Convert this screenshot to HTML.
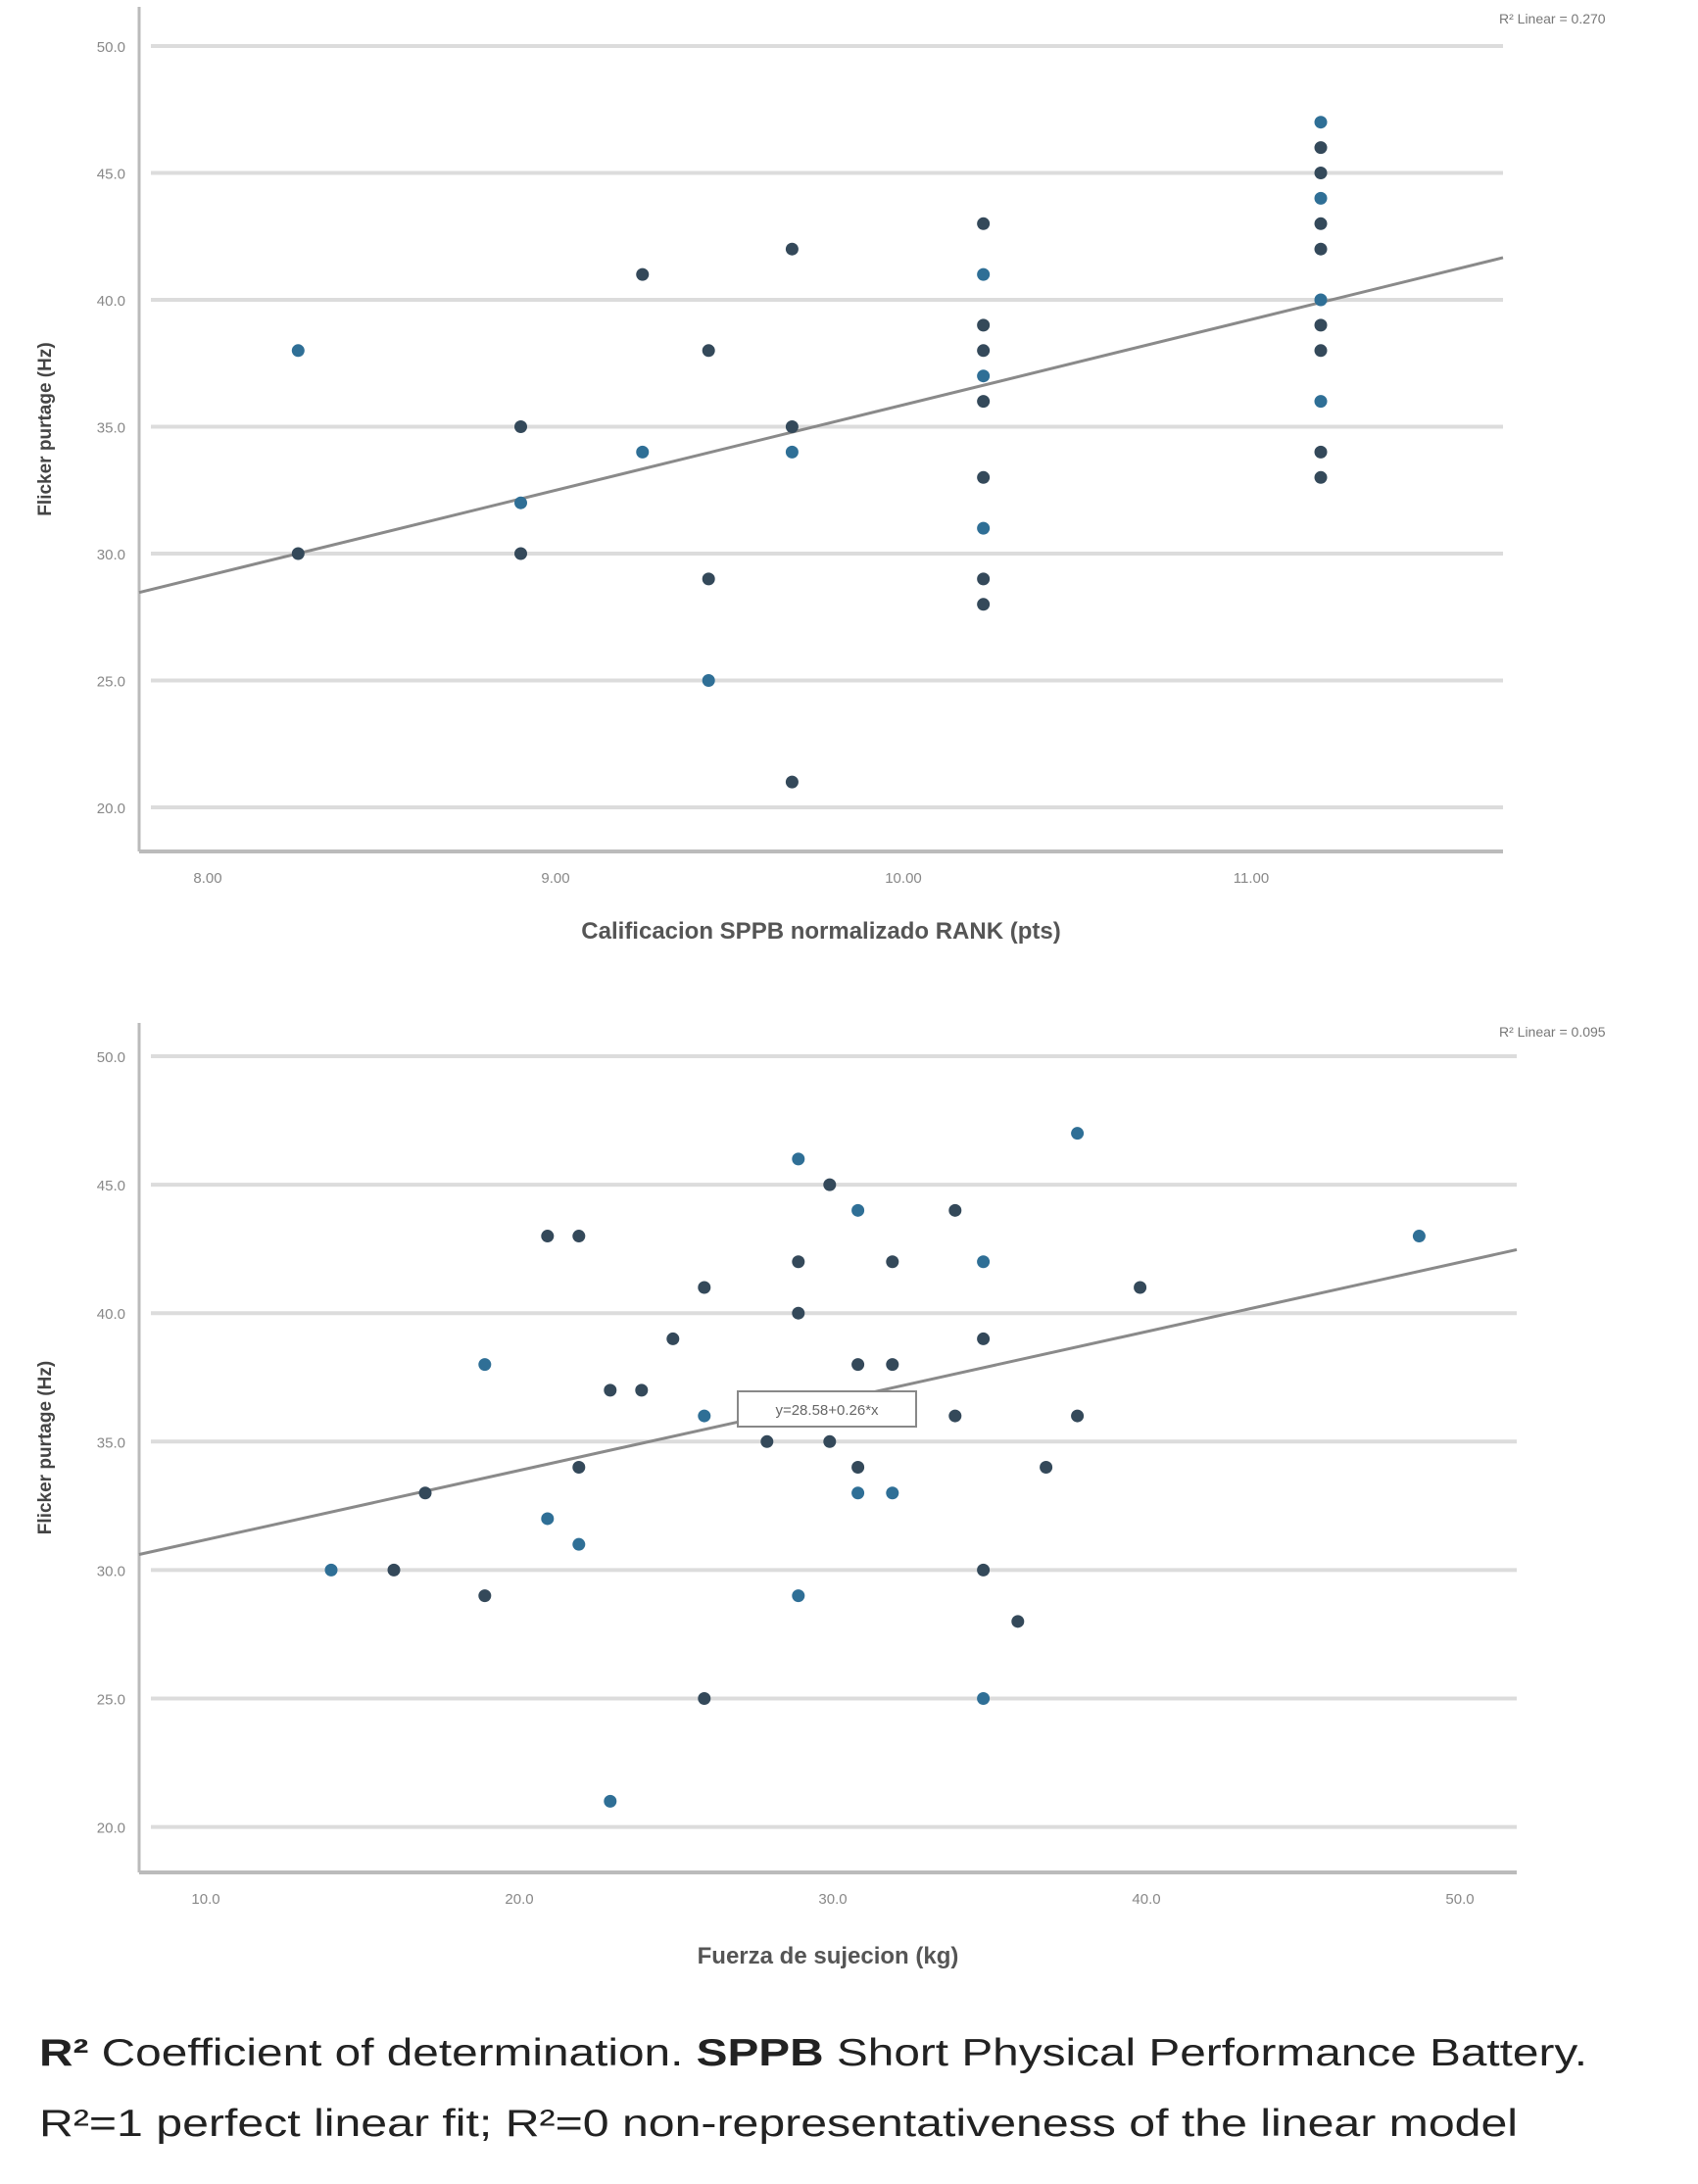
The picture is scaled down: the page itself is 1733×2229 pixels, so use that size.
<!DOCTYPE html>
<html><head><meta charset="utf-8">
<style>
html,body{margin:0;padding:0;background:#fff;width:1733px;height:2229px;overflow:hidden}
svg{display:block}
text{font-family:"Liberation Sans",sans-serif}
</style></head>
<body>
<svg id="fig" width="1733" height="2229" viewBox="0 0 1733 2229"></svg>
<script>
// ---- Top chart data ----
const topYTicks = [20, 25, 30, 35, 40, 45, 50];
const topXTicks = [8, 9, 10, 11];
const topXTickLabels = ["8.00", "9.00", "10.00", "11.00"];
const topX = [8.26,8.26, 8.9,8.9,8.9, 9.25,9.25, 9.44,9.44,9.44, 9.68,9.68,9.68,9.68,
  10.23,10.23,10.23,10.23,10.23,10.23,10.23,10.23,10.23,10.23,
  11.2,11.2,11.2,11.2,11.2,11.2,11.2,11.2,11.2,11.2,11.2,11.2];
const topY = [38,30, 35,32,30, 41,34, 38,29,25, 42,35,34,21,
  43,41,39,38,37,36,33,31,29,28,
  47,46,45,44,43,42,40,39,38,36,34,33];
const topFit = [2.21, 3.365]; // intercept, slope
// ---- Bottom chart data ----
const botYTicks = [20, 25, 30, 35, 40, 45, 50];
const botXTicks = [10, 20, 30, 40, 50];
const botXTickLabels = ["10.0", "20.0", "30.0", "40.0", "50.0"];
const botX = [14,16,17,18.9,18.9,20.9,20.9,21.9,21.9,21.9,22.9,23.9,22.9,24.9,25.9,25.9,25.9,27.9,
  28.9,28.9,28.9,28.9,29.9,29.9,30.8,30.8,30.8,30.8,31.9,31.9,31.9,33.9,33.9,34.8,34.8,34.8,34.8,
  35.9,36.8,37.8,37.8,39.8,48.7];
const botY = [30,30,33,38,29,43,32,43,34,31,37,37,21,39,41,36,25,35,
  46,42,40,29,45,35,44,38,34,33,42,38,33,44,36,42,39,30,25,
  28,34,47,36,41,43];
const botFit = [28.48, 0.27];

const NS = "http://www.w3.org/2000/svg";
const svg = document.getElementById("fig");
function mk(tag, attrs, parent, txt){
  const e = document.createElementNS(NS, tag);
  for (const k in attrs) e.setAttribute(k, attrs[k]);
  if (txt !== undefined) e.textContent = txt;
  (parent || svg).appendChild(e);
  return e;
}

function chart(cfg){
  const g = mk("g", {});
  
  
  const sx = v => cfg.x0px + (v - cfg.x0) * cfg.xpx;
  const sy = v => cfg.y50px + (50 - v) * cfg.ypx;
  cfg.yTicks.forEach(t => {
    const gl = mk("line", {x1: cfg.left + 12, x2: cfg.right, y1: sy(t), y2: sy(t), stroke: "#dcdcdc", "stroke-width": 4}, g);
    
    
    const tl = mk("text", {x: cfg.left - 14, y: sy(t) + 6, "font-size": 15, fill: "#888", "text-anchor": "end"}, g, t.toFixed(1));
    
    
  });
  const ya = mk("line", {x1: cfg.left, x2: cfg.left, y1: cfg.top, y2: cfg.bottom, stroke: "#bbb", "stroke-width": 3}, g);
  
  
  const xa = mk("line", {x1: cfg.left, x2: cfg.right, y1: cfg.bottom, y2: cfg.bottom, stroke: "#bbb", "stroke-width": 4}, g);
  
  
  cfg.xTicks.forEach((t, i) => {
    const tl = mk("text", {x: sx(t), y: cfg.bottom + 32, "font-size": 15, fill: "#888", "text-anchor": "middle"}, g, cfg.xLabels[i]);
    
    
  });
  const xa0 = cfg.x0 + (cfg.left - cfg.x0px) / cfg.xpx;
  const xa1 = cfg.x0 + (cfg.right - cfg.x0px) / cfg.xpx;
  const fl = mk("line", {x1: cfg.left, y1: sy(cfg.fit[0] + cfg.fit[1] * xa0), x2: cfg.right, y2: sy(cfg.fit[0] + cfg.fit[1] * xa1), stroke: "#8a8a8a", "stroke-width": 3}, g);
  
  
  cfg.xs.forEach((v, i) => {
    const c = mk("circle", {cx: sx(v), cy: sy(cfg.ys[i]), r: 6.5, fill: i % 3 === 0 ? "#2f6f96" : "#34495a"}, g);
    
    
  });
  const yt = mk("text", {x: 0, y: 0, "font-size": 19, "font-weight": "bold", fill: "#444", "text-anchor": "middle", transform: `translate(${cfg.left - 90},${(cfg.top + cfg.bottom) / 2}) rotate(-90)`}, g, "Flicker purtage (Hz)");
  
  
  const xt = mk("text", {x: (cfg.left + cfg.right) / 2, y: cfg.xTitleY, "font-size": 24, "font-weight": "bold", fill: "#555", "text-anchor": "middle"}, g, cfg.xTitle);
  
  
  const r2 = mk("text", {x: 1530, y: cfg.r2y, "font-size": 14, fill: "#777"}, g, cfg.r2);
  
  
  return {sx, sy, g};
}

chart({name: "top-chart", left: 142, right: 1534, top: 7, bottom: 869,
  x0: 8, x0px: 212, xpx: 355, y50px: 47, ypx: 25.9,
  yTicks: topYTicks, xTicks: topXTicks, xLabels: topXTickLabels,
  xs: topX, ys: topY, fit: topFit, xTitle: "Calificacion SPPB normalizado RANK (pts)", xTitleY: 958,
  r2: "R² Linear = 0.270", r2y: 24});

chart({name: "bottom-chart", left: 142, right: 1548, top: 1044, bottom: 1911,
  x0: 10, x0px: 210, xpx: 32, y50px: 1078, ypx: 26.22,
  yTicks: botYTicks, xTicks: botXTicks, xLabels: botXTickLabels,
  xs: botX, ys: botY, fit: botFit, xTitle: "Fuerza de sujecion (kg)", xTitleY: 2004,
  r2: "R² Linear = 0.095", r2y: 1058});
const box = mk("rect", {x: 753, y: 1420, width: 182, height: 36, fill: "#fff", stroke: "#888", "stroke-width": 2});


const eq = mk("text", {x: 844, y: 1444, "font-size": 15, fill: "#666", "text-anchor": "middle"}, svg, "y=28.58+0.26*x");



const c1 = mk("text", {x: 40, y: 2108, "font-size": 39, fill: "#222", textLength: 1580, lengthAdjust: "spacingAndGlyphs"});


mk("tspan", {"font-weight": "bold"}, c1, "R² ");
mk("tspan", {}, c1, "Coefficient of determination. ");
mk("tspan", {"font-weight": "bold"}, c1, "SPPB ");
mk("tspan", {}, c1, "Short Physical Performance Battery.");
const c2 = mk("text", {x: 40, y: 2180, "font-size": 39, fill: "#222", textLength: 1509, lengthAdjust: "spacingAndGlyphs"}, svg, "R²=1 perfect linear fit; R²=0 non-representativeness of the linear model");


</script>
</body></html>
